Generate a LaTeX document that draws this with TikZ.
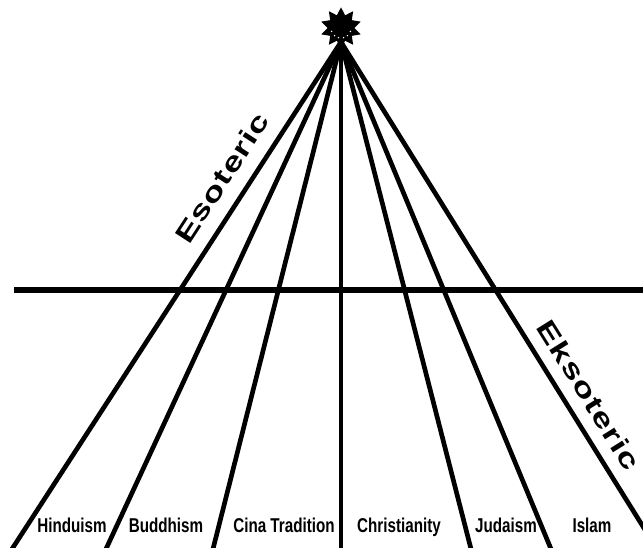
\documentclass[tikz,border=0pt]{standalone}
\usepackage{fontspec}
\setmainfont{Liberation Sans}
\newfontfamily\faithfont[FakeStretch=0.76]{Liberation Sans Bold}
\newfontfamily\sidefont[FakeStretch=1.35,LetterSpace=4]{Liberation Sans Bold}
\usetikzlibrary{shapes.geometric}

\begin{document}
\begin{tikzpicture}[x=0.75pt,y=-0.75pt,
  ray/.style={line width=3.5pt},
  horizon/.style={line width=4.2pt},
  faith/.style={font=\faithfont\fontsize{15}{17}\selectfont,anchor=base,inner sep=0pt},
  side/.style={font=\sidefont\fontsize{20}{23}\selectfont,inner sep=0pt}]
\useasboundingbox (0,0) rectangle (643,547);
\clip (0,0) rectangle (643,547);
% rays from the top
\coordinate (apex) at (341,42);
\foreach \n/\x in {r1/12,r2/106,r3/213,r4/341,r5/471,r6/551,r7/657}
  \coordinate (\n) at (\x,549);
\foreach \n in {r1,r2,r3,r4,r5,r6,r7} \draw[ray] (apex)--(\n);
% horizontal line
\coordinate (hl) at (14,290);
\coordinate (hr) at (645,290);
\draw[horizon] (hl)--(hr);
% star on top
\node[star,star points=10,star point ratio=1.55,minimum size=31pt,inner sep=0pt,fill=black] (star) at (341,28) {};
\foreach \a in {160,130,105,75,50,20}
  \fill[white] (star.center) ++(\a:10) circle (0.8);
% labels
\node[side,rotate=57] (eso) at (222,178) {Esoteric};
\node[side,rotate=-58] (ekso) at (589,395) {Eksoteric};
\node[faith] (hin) at (72,532) {Hinduism};
\node[faith] (bud) at (166,532) {Buddhism};
\node[faith] (cina) at (284,532) {Cina Tradition};
\node[faith] (chr) at (399,532) {Christianity};
\node[faith] (jud) at (506,532) {Judaism};
\node[faith] (isl) at (592,532) {Islam};
\end{tikzpicture}
\end{document}
